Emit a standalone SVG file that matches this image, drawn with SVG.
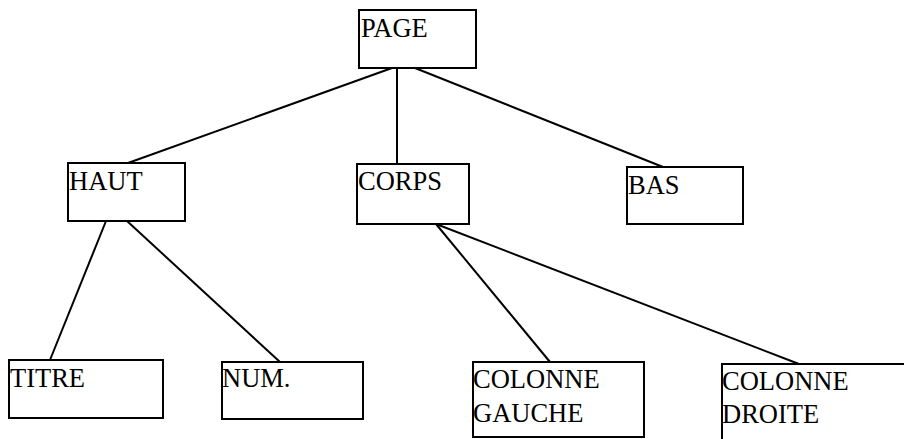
<svg xmlns="http://www.w3.org/2000/svg" width="904" height="439" viewBox="0 0 904 439">
<style>
.box{fill:#fff;stroke:#000;stroke-width:2}
.lbl{font-family:"Liberation Serif","Times New Roman",serif;font-size:26.5px;fill:#000}
.edge{stroke:#000;stroke-width:2;fill:none}
</style>
<rect width="904" height="439" fill="#fff"/>
<g id="connectors">
<line class="edge" x1="392" y1="68" x2="128" y2="163"/>
<line class="edge" x1="397" y1="68" x2="397" y2="164"/>
<line class="edge" x1="415" y1="68" x2="663" y2="167"/>
<line class="edge" x1="106" y1="221" x2="50" y2="360"/>
<line class="edge" x1="127" y1="221" x2="280" y2="362"/>
<line class="edge" x1="436" y1="224" x2="550" y2="362"/>
<line class="edge" x1="436" y1="224" x2="799" y2="364"/>
</g>
<g id="page"><rect class="box" x="359" y="10" width="117" height="58"/><text class="lbl" x="361" y="37">PAGE</text></g>
<g id="haut"><rect class="box" x="68" y="163" width="117" height="58"/><text class="lbl" x="69" y="190">HAUT</text></g>
<g id="corps"><rect class="box" x="357" y="164" width="112" height="60"/><text class="lbl" x="358" y="190">CORPS</text></g>
<g id="bas"><rect class="box" x="627" y="167" width="116" height="57"/><text class="lbl" x="628" y="194">BAS</text></g>
<g id="titre"><rect class="box" x="9" y="360" width="154" height="58"/><text class="lbl" x="10" y="387">TITRE</text></g>
<g id="num"><rect class="box" x="222" y="362" width="141" height="57"/><text class="lbl" x="222" y="387">NUM.</text></g>
<g id="colonne-gauche"><rect class="box" x="473" y="362" width="171" height="75"/><text class="lbl" x="473" y="388">COLONNE</text><text class="lbl" x="473" y="422">GAUCHE</text></g>
<g id="colonne-droite"><path class="box" d="M905 364 H722 V440"/><text class="lbl" x="722" y="390">COLONNE</text><text class="lbl" x="722" y="423">DROITE</text></g>
</svg>
